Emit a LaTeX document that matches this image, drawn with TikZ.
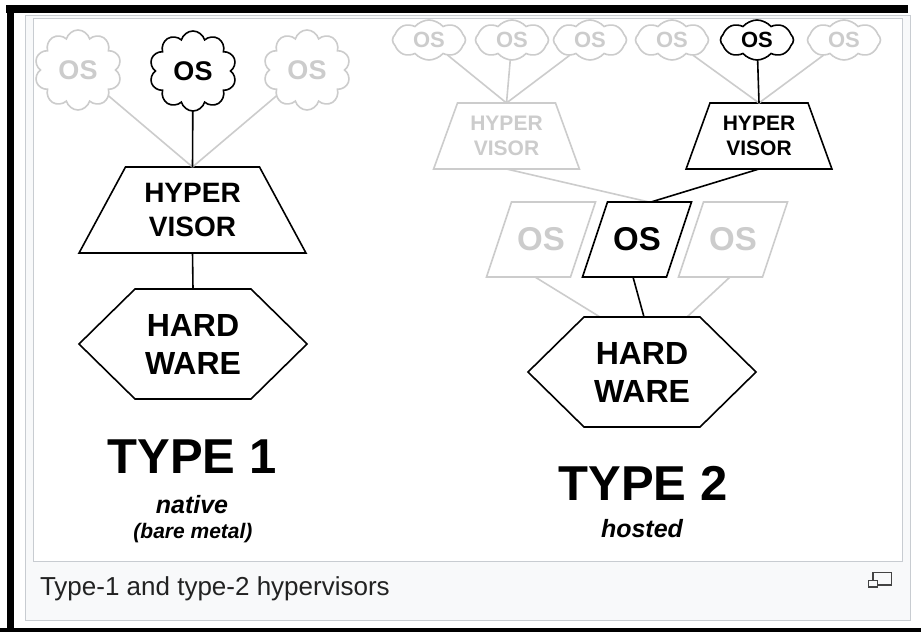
\documentclass[tikz,border=0pt]{standalone}
\usepackage{fontspec}
\setmainfont{Liberation Sans}
\usetikzlibrary{shapes.geometric,shapes.symbols}

\definecolor{fadegray}{HTML}{CCCCCC}
\definecolor{framegray}{HTML}{C8CCD1}
\definecolor{capfill}{HTML}{F8F9FA}
\definecolor{captext}{HTML}{222222}

\newcommand{\fs}[2]{\fontsize{#1}{#2}\selectfont}

\begin{document}
\begin{tikzpicture}[x=1pt,y=-1pt,line width=1.6pt,
  every node/.style={font=\bfseries,align=center,inner sep=0pt,outer sep=0pt},
  ghost/.style={draw=fadegray,text=fadegray},
  live/.style={draw=black,text=black},
  bigcloud/.style={cloud,cloud puffs=10,cloud ignores aspect,minimum width=87pt,minimum height=80pt,font=\bfseries\fs{27}{27}},
  smallcloud/.style={cloud,cloud puffs=8,cloud puff arc=100,cloud ignores aspect,minimum width=73pt,minimum height=40pt,font=\bfseries\fs{22}{22}},
  bigvisor/.style={trapezium,trapezium left angle=58,trapezium right angle=58,trapezium stretches=true,minimum width=227pt,minimum height=86pt,font=\bfseries\fs{28}{34}},
  smallvisor/.style={trapezium,trapezium left angle=66,trapezium right angle=66,trapezium stretches=true,minimum width=146pt,minimum height=66pt,font=\bfseries\fs{21}{25}},
  ossheet/.style={rectangle,minimum width=84pt,minimum height=75pt,font=\bfseries\fs{33}{33}},
  hwbox/.style={rectangle,minimum width=228pt,minimum height=110pt,font=\bfseries\fs{32}{38}},
  typename/.style={anchor=base,font=\bfseries\fs{49}{49}},
  subname/.style={anchor=base,font=\bfseries\itshape\fs{25}{25}}]
\useasboundingbox (0,0) rectangle (921,632);
\fill[white] (0,0) rectangle (921,632);
% page frame and caption box
\fill (6,5) rectangle (908,13);
\fill (7,5) rectangle (14,632);
\fill (0,628) rectangle (921,632);
\draw[framegray,fill=capfill,line width=1pt] (25,15) rectangle (910.5,620);
\draw[framegray,fill=white,line width=1pt] (33.5,18.5) rectangle (902.5,561);
%
% type 1
\node[bigcloud,ghost] (c1a) at (78,70) {OS};
\node[bigcloud,live] (c1b) at (193,71) {OS};
\node[bigcloud,ghost] (c1c) at (307,70) {OS};
\node[bigvisor,live] (hv1) at (192.5,210) {HYPER\\VISOR};
\node[hwbox] (hw1) at (193,344) {HARD\\WARE};
\draw[ghost] (hv1.north) -- (c1a);
\draw[ghost] (hv1.north) -- (c1c);
\draw (hv1.north) -- (c1b);
\draw (hv1.south) -- (hw1.north);
\node[typename] (t1) at (192,473) {TYPE 1};
\node[subname] (n1) at (192,513) {native};
\node[subname,font=\bfseries\itshape\fs{21}{21}] (n1b) at (193,538) {(bare metal)};
%
% type 2
\foreach \n/\x in {a/429,b/512,c/590,d/672,f/844}
  \node[smallcloud,ghost] (c2\n) at (\x,40) {OS};
\node[smallcloud,live] (c2e) at (757,40) {OS};
\node[smallvisor,ghost] (hv2a) at (506.5,136) {HYPER\\VISOR};
\node[smallvisor,live] (hv2b) at (759,136) {HYPER\\VISOR};
\node[ossheet,text=fadegray] (os2a) at (541,239.5) {OS};
\node[ossheet] (os2b) at (637,239.5) {OS};
\node[ossheet,text=fadegray] (os2c) at (733,239.5) {OS};
\node[hwbox] (hw2) at (642,372) {HARD\\WARE};
\foreach \n in {a,b,c}
  \draw[ghost] (hv2a.north) -- (c2\n);
\foreach \n in {d,f}
  \draw[ghost] (hv2b.north) -- (c2\n);
\draw (hv2b.north) -- (c2e);
\draw[ghost] (hv2a.south) -- ([xshift=12pt]os2b.north);
\draw (hv2b.south) -- ([xshift=14pt]os2b.north);
\draw[ghost] ([xshift=-6pt]os2a.south) -- ([xshift=-42pt]hw2.north);
\draw[ghost] ([xshift=-3pt]os2c.south) -- ([xshift=45pt]hw2.north);
\draw ([xshift=-4pt]os2b.south) -- ([xshift=2pt]hw2.north);
\node[typename] (t2) at (643,500) {TYPE 2};
\node[subname] (n2) at (642,537) {hosted};
%
% slanted guest sheets
\foreach \o/\c in {os2a/fadegray,os2c/fadegray,os2b/black}
  \draw[\c] ([xshift=12.5pt]\o.north west) -- ([xshift=12.5pt]\o.north east)
    -- ([xshift=-12.5pt]\o.south east) -- ([xshift=-12.5pt]\o.south west) -- cycle;
% hardware hexagons
\foreach \h in {hw1,hw2}
  \draw (\h.west) -- ([xshift=56pt]\h.north west) -- ([xshift=-56pt]\h.north east)
    -- (\h.east) -- ([xshift=-56pt]\h.south east) -- ([xshift=56pt]\h.south west) -- cycle;
%
% caption
\node[anchor=base west,font=\fs{26}{26},text=captext] (cap) at (40,595) {Type-1 and type-2 hypervisors};
\draw[captext!85,line width=1.3pt] (873,572.5) rectangle (891.5,585);
\draw[captext!85,fill=capfill,line width=1.3pt] (868.5,580.5) rectangle (877.5,587);
\end{tikzpicture}
\end{document}
